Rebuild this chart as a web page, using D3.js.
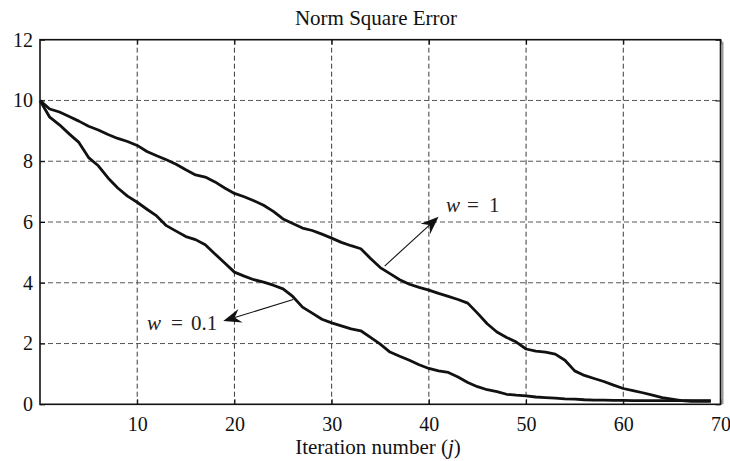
<!DOCTYPE html>
<html>
<head>
<meta charset="utf-8">
<script src="https://cdn.jsdelivr.net/npm/d3@7/dist/d3.min.js"></script>
<style>
  html, body { margin: 0; padding: 0; background: #fff; }
  svg { display: block; font-family: "Liberation Serif", "DejaVu Serif", serif; }
</style>
</head>
<body>
<svg id="chart" width="730" height="461"></svg>
<script>
// Iteration index j
const iterations = d3.range(0, 70);

// Norm square error for relaxation weight w = 1
const errW1 = [
  10.0, 9.72, 9.62, 9.47, 9.32, 9.15, 9.03, 8.88, 8.75, 8.65,
  8.52, 8.32, 8.18, 8.05, 7.90, 7.72, 7.55, 7.48, 7.32, 7.12,
  6.94, 6.83, 6.70, 6.55, 6.35, 6.10, 5.95, 5.80, 5.72, 5.60,
  5.47, 5.33, 5.22, 5.12, 4.80, 4.50, 4.30, 4.10, 3.95, 3.85,
  3.76, 3.65, 3.55, 3.45, 3.33, 3.00, 2.65, 2.38, 2.20, 2.05,
  1.82, 1.75, 1.72, 1.65, 1.45, 1.10, 0.95, 0.85, 0.75, 0.63,
  0.52, 0.45, 0.38, 0.30, 0.22, 0.17, 0.12, 0.10, 0.10, 0.10
];

// Norm square error for relaxation weight w = 0.1
const errW01 = [
  10.0, 9.45, 9.20, 8.90, 8.62, 8.12, 7.85, 7.45, 7.12, 6.85,
  6.65, 6.42, 6.20, 5.88, 5.70, 5.52, 5.42, 5.25, 4.95, 4.65,
  4.35, 4.22, 4.10, 4.02, 3.92, 3.80, 3.55, 3.20, 3.00, 2.80,
  2.68, 2.58, 2.48, 2.42, 2.20, 1.98, 1.72, 1.58, 1.45, 1.30,
  1.18, 1.10, 1.05, 0.90, 0.72, 0.58, 0.48, 0.42, 0.33, 0.30,
  0.28, 0.24, 0.22, 0.20, 0.18, 0.17, 0.15, 0.14, 0.14, 0.13,
  0.13, 0.12, 0.12, 0.12, 0.12, 0.12, 0.12, 0.12, 0.12, 0.12
];

const xTicks = [10, 20, 30, 40, 50, 60, 70];
const yTicks = [0, 2, 4, 6, 8, 10, 12];

const titleText = "Norm Square Error";
const xLabelText = "Iteration number (";
const xLabelVar = "j";

const svg = d3.select("#chart");

const x = d3.scaleLinear().domain([0, 70]).range([40, 720.5]);
const y = d3.scaleLinear().domain([0, 12]).range([404.3, 39.7]);

const [x0, x1] = x.range();
const [y0, y1] = y.range();

// dashed grid
const grid = svg.append("g");
grid.selectAll("line.gx")
  .data(xTicks.filter(t => t < 70))
  .join("line")
  .attr("x1", d => x(d)).attr("x2", d => x(d))
  .attr("y1", y1).attr("y2", y0)
  .attr("stroke", "#3a3a3a").attr("stroke-width", 1)
  .attr("stroke-dasharray", "5,3");
grid.selectAll("line.gy")
  .data(yTicks.filter(t => t > 0 && t < 12))
  .join("line")
  .attr("x1", x0).attr("x2", x1)
  .attr("y1", d => y(d)).attr("y2", d => y(d))
  .attr("stroke", "#555").attr("stroke-width", 1)
  .attr("stroke-dasharray", "5,3");

// axes with inward ticks
const axisStyle = g => {
  g.select(".domain").remove();
  g.selectAll(".tick line").attr("stroke", "#000");
  g.selectAll(".tick text")
    .attr("font-family", "Liberation Serif, serif")
    .attr("font-size", 20).attr("fill", "#111");
};

svg.append("g")
  .attr("transform", `translate(0,${y0})`)
  .call(d3.axisBottom(x).tickValues(xTicks).tickSize(-5).tickPadding(13))
  .call(axisStyle);

svg.append("g")
  .attr("transform", `translate(${x0},0)`)
  .call(d3.axisLeft(y).tickValues(yTicks).tickSize(-5).tickPadding(7))
  .call(axisStyle);

svg.append("g")
  .attr("transform", `translate(${x1},0)`)
  .call(d3.axisRight(y).tickValues(yTicks).tickSize(-5).tickFormat(""))
  .call(axisStyle);

svg.append("g")
  .attr("transform", `translate(0,${y1})`)
  .call(d3.axisTop(x).tickValues(xTicks).tickSize(-5).tickFormat(""))
  .call(axisStyle);

// faint shadow along the right edge
svg.append("line")
  .attr("x1", x1 + 2).attr("x2", x1 + 2)
  .attr("y1", y1 + 2).attr("y2", y0)
  .attr("stroke", "#999").attr("stroke-width", 2);

// plot frame
svg.append("rect")
  .attr("x", x0).attr("y", y1)
  .attr("width", x1 - x0).attr("height", y0 - y1)
  .attr("fill", "none").attr("stroke", "#111").attr("stroke-width", 1.6);

// curves
const line = d3.line().x((d, i) => x(iterations[i])).y(d => y(d));
[errW1, errW01].forEach(series => {
  svg.append("path")
    .datum(series)
    .attr("d", line)
    .attr("fill", "none")
    .attr("stroke", "#111")
    .attr("stroke-width", 2.8)
    .attr("stroke-linejoin", "round");
});

// annotation arrows (data coordinates)
function arrow(fromJ, fromV, toJ, toV) {
  const ax = x(fromJ), ay = y(fromV), bx = x(toJ), by = y(toV);
  const ang = Math.atan2(by - ay, bx - ax);
  const L = 18, W = 7, notch = 12;
  const ux = Math.cos(ang), uy = Math.sin(ang);
  const px = -uy, py = ux;
  const baseX = bx - ux * L, baseY = by - uy * L;
  const nX = bx - ux * notch, nY = by - uy * notch;
  svg.append("line")
    .attr("x1", ax).attr("y1", ay).attr("x2", nX).attr("y2", nY)
    .attr("stroke", "#111").attr("stroke-width", 1.1);
  const pts = [
    [bx, by],
    [baseX + px * W, baseY + py * W],
    [nX, nY],
    [baseX - px * W, baseY - py * W]
  ];
  svg.append("path")
    .attr("d", "M" + pts.map(p => p.join(",")).join("L") + "Z")
    .attr("fill", "#111");
}

arrow(35.45, 4.55, 41.0, 6.17);
arrow(26.05, 3.45, 18.85, 2.74);

// "w = value" labels with wide spacing around the equals sign
function label(px, py, value, gapEq, gapVal) {
  const t = svg.append("text")
    .attr("y", py)
    .attr("font-size", 21).attr("fill", "#222");
  t.append("tspan").attr("x", px).attr("font-style", "italic").text("w");
  t.append("tspan").attr("x", px + gapEq).text("=");
  t.append("tspan").attr("x", px + gapVal).text(value);
}
label(446, 212, "1", 21, 43);
label(147, 330, "0.1", 24, 44);

// title and axis label
svg.append("text")
  .attr("x", 376).attr("y", 25)
  .attr("text-anchor", "middle")
  .attr("font-size", 21).attr("fill", "#111")
  .text(titleText);

const xl = svg.append("text")
  .attr("x", 378).attr("y", 454)
  .attr("text-anchor", "middle")
  .attr("font-size", 21).attr("fill", "#111");
xl.append("tspan").text(xLabelText);
xl.append("tspan").attr("font-style", "italic").text(xLabelVar);
xl.append("tspan").text(")");
</script>
</body>
</html>
